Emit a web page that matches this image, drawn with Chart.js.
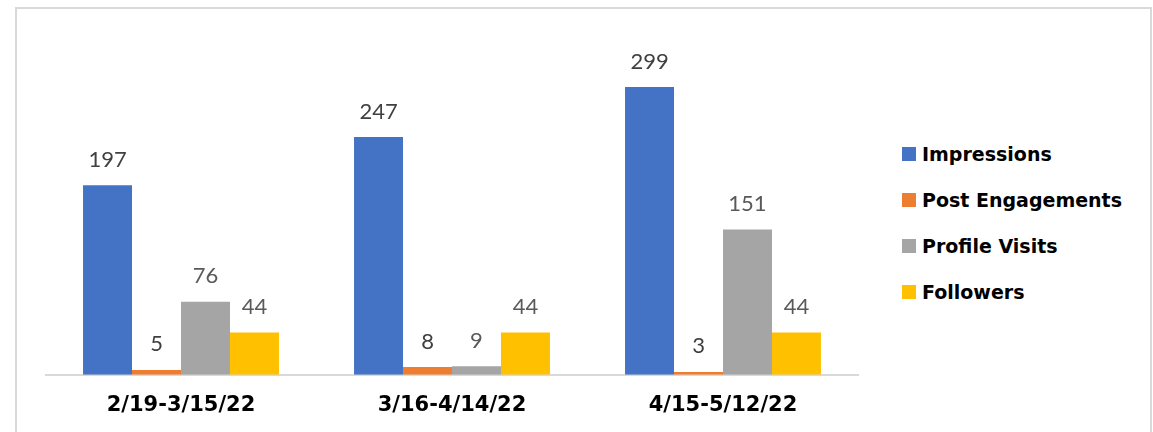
<!DOCTYPE html>
<html lang="en">
<head>
  <meta charset="UTF-8">
  <title>Social Stats</title>
  <script src="https://cdn.jsdelivr.net/npm/chart.js"></script>
  <style>
    body { margin: 0; background: #fff; width: 1153px; height: 432px; overflow: hidden; position: relative; }
    #frame { position: absolute; left: 15px; top: 7px; width: 1133px; height: 440px; border: 2px solid #d9d9d9; border-bottom: none; }
    #wrap { position: absolute; left: 0; top: 0; width: 880px; height: 432px; }
    #legend { position: absolute; left: 902px; top: 131px; font: bold 19px "DejaVu Sans", sans-serif; color: #000; }
    #legend div { height: 46px; display: flex; align-items: center; }
    #legend span.box { width: 14px; height: 14px; margin-right: 6px; display: inline-block; }
  </style>
</head>
<body>
  <div id="frame"></div>
  <div id="wrap"><canvas id="chart"></canvas></div>
  <div id="legend"></div>

  <script>
    const periods = ['2/19-3/15/22', '3/16-4/14/22', '4/15-5/12/22'];
    const seriesNames = ['Impressions', 'Post Engagements', 'Profile Visits', 'Followers'];
    const impressions = [197, 247, 299];
    const engagements = [5, 8, 3];
    const visits = [76, 9, 151];
    const followers = [44, 44, 44];

    const colors = ['#4472C4', '#ED7D31', '#A5A5A5', '#FFC000'];
    const labelColors = ['#404040', '#404040', '#595959', '#595959'];
    const values = [impressions, engagements, visits, followers];

    // value labels above each bar
    const valueLabels = {
      id: 'valueLabels',
      afterDatasetsDraw(chart) {
        const ctx = chart.ctx;
        ctx.save();
        ctx.font = '22px Lato, sans-serif';
        ctx.textAlign = 'center';
        ctx.textBaseline = 'alphabetic';
        chart.data.datasets.forEach((ds, i) => {
          chart.getDatasetMeta(i).data.forEach((bar, j) => {
            ctx.fillStyle = labelColors[i];
            ctx.fillText(ds.data[j], bar.x, bar.y - 18.5);
          });
        });
        ctx.restore();
      }
    };

    new Chart(document.getElementById('chart'), {
      type: 'bar',
      data: {
        labels: periods,
        datasets: seriesNames.map((name, i) => ({
          label: name,
          data: values[i],
          backgroundColor: colors[i],
          borderWidth: 0,
          barPercentage: 1,
          categoryPercentage: 0.723
        }))
      },
      options: {
        responsive: true,
        maintainAspectRatio: false,
        animation: false,
        layout: { padding: { left: 45.5, right: 21.5, top: 38, bottom: -4 } },
        plugins: {
          legend: { display: false },
          tooltip: { enabled: false }
        },
        scales: {
          x: {
            grid: { display: false, drawTicks: false },
            border: { color: '#d9d9d9', width: 2 },
            ticks: {
              color: '#000',
              padding: 18,
              font: { family: 'DejaVu Sans', size: 21, weight: 'bold' }
            }
          },
          y: { display: false, min: 0, max: 350 }
        }
      },
      plugins: [valueLabels]
    });

    const legend = document.getElementById('legend');
    seriesNames.forEach((name, i) => {
      const row = document.createElement('div');
      row.innerHTML = `<span class="box" style="background:${colors[i]}"></span>${name}`;
      legend.appendChild(row);
    });
  </script>
</body>
</html>
